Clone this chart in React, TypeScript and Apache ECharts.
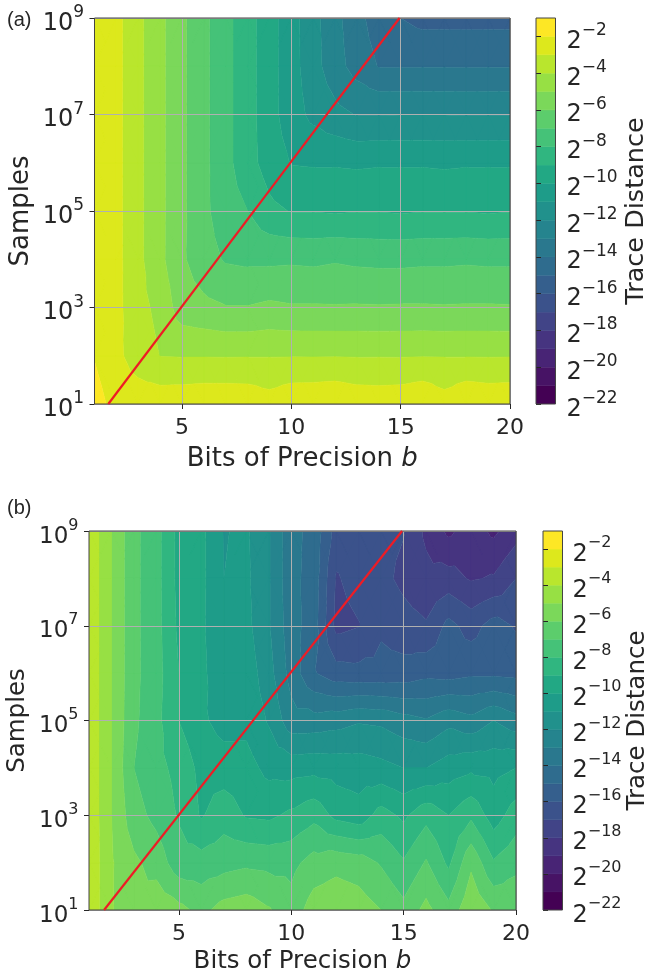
import React, { useEffect, useRef } from "react";
import * as echarts from "echarts";

// ---- axes of the measurement grid ----
const bits = [1, 2, 3, 4, 5, 6, 7, 8, 9, 10, 11, 12, 13, 14, 15, 16, 17, 18, 19, 20];
const logSamples = [1, 2, 3, 4, 5, 6, 7, 8, 9];
const levels = [-22, -21, -20, -19, -18, -17, -16, -15, -14, -13, -12, -11, -10, -9, -8, -7, -6, -5, -4, -3, -2, -1];
const bandColors = ["#440154", "#471365", "#482475", "#463480", "#414487", "#3b528b", "#355f8d", "#2f6c8e", "#2a788e", "#25848e", "#21918c", "#1e9c89", "#22a884", "#30b680", "#45c278", "#5ccd6c", "#7bd85a", "#97e044", "#b9e62d", "#dde81c", "#fde725"];
const xTicks = [5, 10, 15, 20];
const yTicks = [1, 3, 5, 7, 9];
const cbarTicks = [-22, -20, -18, -16, -14, -12, -10, -8, -6, -4, -2];

// ---- log2 trace distance, panel (a); one row per decade of samples, 10^1 first ----
const a1 = [-1.6, -2.35, -2.4, -2.35, -2.3, -2.2, -2.2, -2.25, -2.55, -2.2, -2.15, -2.05, -2.3, -2.35, -2.3, -2.05, -2.55, -2.05, -2.2, -2.15];
const a2 = [-2.05, -2.75, -3.5, -4.02, -4.05, -4.05, -4.06, -4.05, -4.05, -4.04, -4.05, -4.04, -4.06, -4.05, -4.06, -4.04, -4.05, -4.05, -4.06, -4.05];
const a3 = [-2.1, -2.7, -3.7, -4.25, -5.55, -5.75, -5.95, -5.95, -5.8, -5.9, -5.9, -5.92, -5.9, -5.92, -5.9, -5.9, -5.92, -5.9, -5.9, -5.92];
const a4 = [-2.1, -2.7, -3.75, -4.75, -5.85, -6.6, -7.1, -7.2, -7.2, -7.15, -7.2, -7.1, -7.2, -7.25, -7.25, -7.2, -7.2, -7.15, -7.2, -7.2];
const a5 = [-2.1, -2.7, -3.75, -4.75, -5.8, -6.75, -7.6, -8.0, -8.75, -9.05, -9.05, -9.1, -9.05, -9.05, -9.1, -9.05, -9.05, -9.05, -9.1, -9.05];
const a6 = [-2.1, -2.7, -3.75, -4.75, -5.8, -6.75, -7.7, -8.6, -9.45, -10.05, -10.1, -10.1, -10.15, -10.1, -10.1, -10.1, -10.15, -10.1, -10.1, -10.1];
const a7 = [-2.1, -2.7, -3.75, -4.75, -5.8, -6.75, -7.7, -8.6, -9.6, -10.55, -11.25, -11.7, -12.05, -12.05, -12.02, -12.02, -12.02, -12.05, -12.05, -12.05];
const a8 = [-2.1, -2.7, -3.75, -4.75, -5.8, -6.75, -7.7, -8.6, -9.6, -10.6, -11.6, -12.6, -13.4, -14.05, -14.06, -14.05, -14.05, -14.06, -14.05, -14.05];
const a9 = [-2.1, -2.7, -3.75, -4.75, -5.8, -6.75, -7.7, -8.6, -9.6, -10.6, -11.65, -12.7, -13.65, -14.55, -15, -15.3, -15.3, -15.3, -15.3, -15.3];

// ---- log2 trace distance, panel (b) ----
const b1 = [-3.2, -4.9, -6, -5.3, -5.7, -6.3, -5.6, -5.4, -5.9, -6.6, -5.5, -5.3, -5.5, -6, -6.7, -5.7, -6.7, -5.2, -6.1, -6.2];
const b2 = [-3.2, -4.9, -5.8, -6.4, -7.6, -7.6, -7.4, -7.2, -7.3, -7.3, -6.6, -6.3, -6.5, -7.1, -7.9, -6.9, -8.2, -6.2, -7.9, -7.3];
const b3 = [-3.2, -5, -6.6, -7.3, -8.1, -9.1, -8.4, -9.1, -9.2, -8.8, -8.3, -9.3, -9.6, -8.6, -9.2, -8.3, -9, -8.2, -9.5, -8.5];
const b4 = [-3.2, -5, -7, -7.7, -8.3, -9.3, -9.5, -9.6, -10.3, -10.4, -10.3, -10.4, -10.5, -10.7, -11, -11, -10.5, -10.2, -10.3, -10];
const b5 = [-3.2, -5, -6.8, -7.7, -9, -9.8, -10.4, -10.3, -11.1, -12.6, -12.6, -12.4, -12.1, -12.2, -12.6, -12.9, -12.3, -12.7, -12, -12.6];
const b6 = [-3.2, -5, -6.75, -7.6, -9, -9.7, -10.9, -10.4, -11.6, -13.4, -14.9, -15.6, -15.7, -15.7, -15.6, -15.3, -15.4, -15.2, -15.2, -15.3];
const b7 = [-3.2, -5, -6.75, -7.65, -9.2, -9.8, -10.95, -10.7, -11.9, -13.6, -14.5, -17.3, -17.05, -16.15, -16.6, -16.9, -15.7, -16.4, -15.6, -16.1];
const b8 = [-3.2, -5, -6.75, -7.65, -9.3, -9.75, -11, -10.8, -11.9, -13.7, -14.4, -17.1, -16.6, -16.7, -17.25, -17.7, -17.6, -18.1, -17.9, -17];
const b9 = [-3.2, -5, -6.75, -7.65, -9.3, -9.75, -11.05, -10.85, -11.9, -13.7, -14.3, -16.4, -16.5, -16.7, -16.95, -18.2, -19.2, -18.5, -19.2, -18.4];

const rowsA = [a1, a2, a3, a4, a5, a6, a7, a8, a9];
const rowsB = [b1, b2, b3, b4, b5, b6, b7, b8, b9];

// ---- the reference line ----
const refLineA = [[1.63, 1], [14.95, 9]];
const refLineB = [[1.67, 1], [14.93, 9]];

type V = [number, number, number];

function clipAt(poly: V[], level: number, keepAbove: boolean): V[] {
  const out: V[] = [];
  const inside = (p: V) => (keepAbove ? p[2] >= level : p[2] <= level);
  for (let i = 0; i < poly.length; i++) {
    const p = poly[i];
    const q = poly[(i + 1) % poly.length];
    if (inside(p)) out.push(p);
    if (inside(p) !== inside(q)) {
      const t = (level - p[2]) / (q[2] - p[2]);
      out.push([p[0] + t * (q[0] - p[0]), p[1] + t * (q[1] - p[1]), level]);
    }
  }
  return out;
}

// filled contours: each grid cell is cut into four triangles round its mean, each clipped to each band.
// Returns, per band, the list of polygons (in data units).
function contourBands(rows: number[][]): number[][][][] {
  const bands: number[][][][] = levels.slice(0, -1).map(() => []);
  for (let r = 0; r < logSamples.length - 1; r++) {
    for (let c = 0; c < bits.length - 1; c++) {
      const A: V = [bits[c], logSamples[r], rows[r][c]];
      const B: V = [bits[c + 1], logSamples[r], rows[r][c + 1]];
      const C: V = [bits[c + 1], logSamples[r + 1], rows[r + 1][c + 1]];
      const D: V = [bits[c], logSamples[r + 1], rows[r + 1][c]];
      const M: V = [(A[0] + B[0]) / 2, (A[1] + D[1]) / 2, (A[2] + B[2] + C[2] + D[2]) / 4];
      const tris: V[][] = [[A, B, M], [B, C, M], [C, D, M], [D, A, M]];
      for (const tri of tris) {
        const vs = tri.map((p) => p[2]);
        const lo = Math.min(...vs);
        const hi = Math.max(...vs);
        for (let k = 0; k < levels.length - 1; k++) {
          if (hi < levels[k] || lo > levels[k + 1]) continue;
          let poly = clipAt(tri, levels[k], true);
          if (poly.length >= 3) poly = clipAt(poly, levels[k + 1], false);
          if (poly.length >= 3) bands[k].push(poly.map((p) => [p[0], p[1]]));
        }
      }
    }
  }
  return bands;
}

const FONT = "DejaVu Sans";
const INK = "#262626";

function contourSeries(bands: number[][][][], axis: number) {
  return {
    type: "custom",
    xAxisIndex: axis,
    yAxisIndex: axis,
    clip: true,
    z: 1,
    progressive: 0,
    silent: true,
    data: bands.map((_, i) => [i, 0]),
    encode: { x: 0, y: 1 },
    renderItem: (_p: any, api: any) => {
      const k = api.value(0);
      let d = "";
      for (const poly of bands[k]) {
        poly.forEach((q, i) => {
          const p = api.coord(q);
          d += `${i ? "L" : "M"}${p[0].toFixed(2)} ${p[1].toFixed(2)}`;
        });
        d += "Z";
      }
      if (!d) return null;
      return {
        type: "path",
        shape: { pathData: d },
        style: { fill: bandColors[k], stroke: bandColors[k], lineWidth: 0.5 },
      };
    },
  };
}

function colorbarSeries(axis: number) {
  return {
    type: "custom",
    xAxisIndex: axis,
    yAxisIndex: axis,
    clip: true,
    z: 1,
    silent: true,
    data: levels.slice(0, -1).map((l, i) => [0, l, i]),
    encode: { x: 0, y: 1 },
    renderItem: (_p: any, api: any) => {
      const k = api.value(2);
      const p0 = api.coord([0, levels[k + 1]]);
      const p1 = api.coord([1, levels[k]]);
      return {
        type: "rect",
        shape: { x: p0[0], y: p0[1], width: p1[0] - p0[0], height: p1[1] - p0[1] },
        style: { fill: bandColors[k], stroke: bandColors[k], lineWidth: 0.5 },
      };
    },
  };
}

function redLine(data: number[][], axis: number) {
  return {
    type: "line",
    xAxisIndex: axis,
    yAxisIndex: axis,
    data,
    symbol: "none",
    z: 6,
    silent: true,
    clip: true,
    lineStyle: { color: "#ee1c25", width: 2.2 },
  };
}

function plotX(grid: number, size: number, nameSize: number, gap: number) {
  return {
    type: "value",
    gridIndex: grid,
    min: 1,
    max: 20,
    splitNumber: 4,
    z: 4,
    name: "{n|Bits of Precision }{i|b}",
    nameLocation: "middle",
    nameGap: gap,
    nameTextStyle: {
      rich: {
        n: { fontFamily: FONT, fontSize: nameSize, color: INK },
        i: { fontFamily: FONT, fontStyle: "italic", fontSize: nameSize, color: INK },
      },
    },
    axisLine: { show: false },
    axisTick: { show: true, length: 5, customValues: xTicks, lineStyle: { color: INK, width: 1 } },
    axisLabel: { customValues: xTicks, fontFamily: FONT, fontSize: size, color: INK, margin: 11, formatter: (v: number) => String(v) },
    splitLine: { show: true, lineStyle: { color: "#b0b0b0", width: 1 } },
  };
}

function plotY(grid: number, size: number, sup: number, nameSize: number, gap: number) {
  return {
    type: "value",
    gridIndex: grid,
    min: 1,
    max: 9,
    interval: 2,
    z: 4,
    name: "Samples",
    nameLocation: "middle",
    nameRotate: 90,
    nameGap: gap,
    nameTextStyle: { fontFamily: FONT, fontSize: nameSize, color: INK },
    axisLine: { show: false },
    axisTick: { show: true, length: 5, customValues: yTicks, lineStyle: { color: INK, width: 1 } },
    axisLabel: {
      customValues: yTicks,
      margin: 10.5,
      color: INK,
      formatter: (v: number) => `{b|10}{s|${v}}`,
      rich: {
        b: { fontFamily: FONT, fontSize: size, color: INK, padding: [7, 0, 0, 0] },
        s: { fontFamily: FONT, fontSize: sup, color: INK, verticalAlign: "top" },
      },
    },
    splitLine: { show: true, lineStyle: { color: "#b0b0b0", width: 1 } },
  };
}

function cbarX(grid: number) {
  return { type: "value", gridIndex: grid, min: 0, max: 1, show: false };
}

function cbarY(grid: number, size: number, sup: number, nameSize: number, gap: number, margin: number) {
  return {
    type: "value",
    gridIndex: grid,
    position: "right",
    min: -22,
    max: -1,
    interval: 2,
    z: 4,
    name: "Trace Distance",
    nameLocation: "middle",
    nameRotate: 90,
    nameGap: gap,
    nameMoveOverlap: false,
    nameTextStyle: { fontFamily: FONT, fontSize: nameSize, color: INK },
    axisLine: { show: false },
    splitLine: { show: false },
    axisTick: { show: true, length: 5, customValues: cbarTicks, lineStyle: { color: INK, width: 1 } },
    axisLabel: {
      customValues: cbarTicks,
      margin,
      align: "left",
      color: INK,
      formatter: (v: number) => `{b|2}{s|\u2212${-v}}`,
      rich: {
        b: { fontFamily: FONT, fontSize: size, color: INK, padding: [7, 0, 0, 0] },
        s: { fontFamily: FONT, fontSize: sup, color: INK, verticalAlign: "top" },
      },
    },
  };
}

export default function App() {
  const ref = useRef<HTMLDivElement>(null);
  useEffect(() => {
    if (!ref.current) return;
    const chart = echarts.init(ref.current, undefined, { renderer: "svg" });
    const frame = { show: true, z: 5, backgroundColor: "transparent", borderColor: "#444", borderWidth: 1, outerBoundsMode: "none", containLabel: false };
    chart.setOption({
      animation: false,
      backgroundColor: "#ffffff",
      grid: [
        { ...frame, left: 94.5, top: 18, width: 415.5, height: 386 },
        { ...frame, left: 536, top: 18, width: 19.5, height: 386 },
        { ...frame, left: 89, top: 531, width: 427, height: 379 },
        { ...frame, left: 543, top: 531, width: 19.5, height: 379 },
      ],
      xAxis: [plotX(0, 22, 26, 40), cbarX(1), plotX(2, 22, 24.5, 36.5), cbarX(3)],
      yAxis: [plotY(0, 24, 17, 26, 63), cbarY(1, 24, 17, 25.5, 65, 11), plotY(2, 23, 16, 24.5, 61), cbarY(3, 24, 16, 24.5, 60, 10)],
      series: [
        contourSeries(contourBands(rowsA), 0),
        colorbarSeries(1),
        contourSeries(contourBands(rowsB), 2),
        colorbarSeries(3),
        redLine(refLineA, 0),
        redLine(refLineB, 2),
      ],
      graphic: [
        { type: "text", left: 7, top: 9, style: { text: "(a)", fontFamily: "Liberation Sans", fontSize: 20, fill: INK } },
        { type: "text", left: 7, top: 497, style: { text: "(b)", fontFamily: "Liberation Sans", fontSize: 20, fill: INK } },
      ],
    });
    return () => chart.dispose();
  }, []);
  return <div ref={ref} style={{ position: "absolute", left: 0, top: 0, width: 648, height: 973, filter: "blur(0.3px)" }} />;
}
